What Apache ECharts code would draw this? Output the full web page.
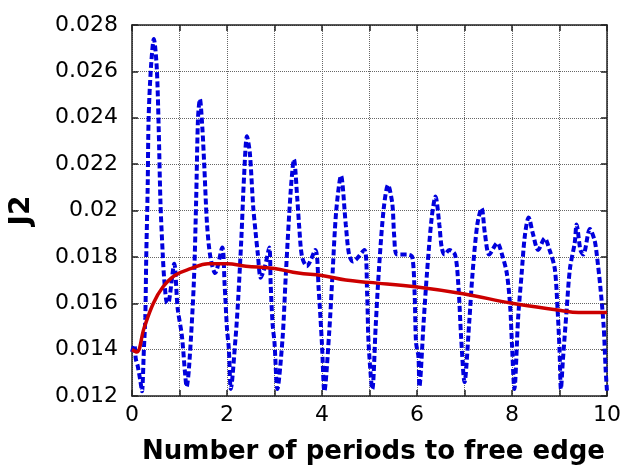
<!DOCTYPE html>
<html>
<head>
<meta charset="utf-8">
<script src="https://cdn.jsdelivr.net/npm/echarts@6/dist/echarts.min.js"></script>
<style>
  html, body { margin: 0; padding: 0; background: #fff; }
  #chart { width: 624px; height: 470px; }
</style>
</head>
<body>
<div id="chart"></div>
<script>
// J2 vs number of periods to free edge
const blueX = [0.00, 0.05, 0.08, 0.12, 0.18, 0.21, 0.25, 0.28, 0.30, 0.33, 0.35, 0.40, 0.46, 0.52, 0.56, 0.60, 0.65, 0.68, 0.74, 0.78, 0.89, 0.96,
  1.05, 1.12, 1.15, 1.20, 1.30, 1.35, 1.39, 1.43, 1.48, 1.52, 1.58, 1.65, 1.75, 1.90, 1.95,
  2.00, 2.04, 2.08, 2.18, 2.23, 2.30, 2.36, 2.42, 2.48, 2.55, 2.60, 2.65, 2.71, 2.80, 2.89, 2.92, 2.96,
  3.00, 3.06, 3.17, 3.24, 3.34, 3.41, 3.48, 3.52, 3.58, 3.68, 3.86, 3.93,
  4.00, 4.05, 4.15, 4.22, 4.30, 4.40, 4.50, 4.57, 4.65, 4.89, 4.95, 4.98,
  5.06, 5.13, 5.20, 5.30, 5.39, 5.48, 5.52, 5.58, 5.80, 5.90, 5.95, 5.98,
  6.03, 6.05, 6.14, 6.21, 6.31, 6.39, 6.47, 6.52, 6.58, 6.68, 6.80, 6.87, 6.93,
  7.00, 7.10, 7.17, 7.27, 7.36, 7.43, 7.52, 7.69, 7.79, 7.89, 7.96,
  8.00, 8.05, 8.13, 8.20, 8.27, 8.35, 8.44, 8.55, 8.69, 8.79, 8.90, 8.96,
  9.00, 9.03, 9.07, 9.15, 9.22, 9.32, 9.36, 9.44, 9.50, 9.64, 9.74, 9.79, 9.86, 9.93, 9.97, 10.0];
const blueY = [0.0139, 0.0142, 0.0136, 0.0133, 0.0126, 0.0122, 0.0140, 0.0154, 0.0180, 0.0210, 0.0240, 0.0262, 0.0274, 0.0262, 0.0237, 0.0203, 0.0180, 0.0170, 0.0160, 0.0161, 0.0177, 0.0158,
  0.0146, 0.0129, 0.0124, 0.0132, 0.0168, 0.0204, 0.0240, 0.0248, 0.0236, 0.0220, 0.0194, 0.0180, 0.0173, 0.0184, 0.0168,
  0.0149, 0.0140, 0.0123, 0.0145, 0.0160, 0.0187, 0.0215, 0.0232, 0.0225, 0.0202, 0.0191, 0.0181, 0.0171, 0.0176, 0.0184, 0.0168, 0.0151,
  0.0143, 0.0123, 0.0145, 0.0173, 0.0208, 0.0222, 0.0205, 0.0193, 0.0180, 0.0176, 0.0183, 0.0166,
  0.0142, 0.0122, 0.0147, 0.0172, 0.0200, 0.0215, 0.0194, 0.0181, 0.0178, 0.0183, 0.0164, 0.0143,
  0.0123, 0.0150, 0.0175, 0.0201, 0.0211, 0.0203, 0.0189, 0.0181, 0.0181, 0.0180, 0.0164, 0.0143,
  0.0137, 0.0124, 0.0152, 0.0173, 0.0197, 0.0206, 0.0194, 0.0184, 0.0181, 0.0183, 0.0181, 0.0168, 0.0145,
  0.0126, 0.0152, 0.0173, 0.0194, 0.0201, 0.0190, 0.0181, 0.0186, 0.0181, 0.0173, 0.0159,
  0.0142, 0.0123, 0.0154, 0.0172, 0.0189, 0.0197, 0.0190, 0.0183, 0.0188, 0.0183, 0.0175, 0.0157,
  0.0140, 0.0123, 0.0135, 0.0157, 0.0175, 0.0186, 0.0194, 0.0183, 0.0181, 0.0192, 0.0187, 0.0180, 0.0167, 0.0150, 0.0132, 0.0122];

const redX = [0, 0.1, 0.25, 0.45, 0.65, 0.9, 1.25, 1.6, 2.0, 2.4, 3.0, 3.5, 4.0, 4.5, 5.0, 6.0, 7.0, 8.0, 9.0, 9.4, 10];
const redY = [0.0140, 0.0139, 0.0149, 0.0160, 0.0167, 0.0172, 0.0175, 0.0177, 0.0177, 0.0176, 0.0175, 0.0173, 0.0172, 0.0170, 0.0169, 0.0167, 0.0164, 0.0160, 0.0157, 0.0156, 0.0156];

const xMin = 0, xMax = 10, xStep = 1;
const yMin = 0.012, yMax = 0.028, yStep = 0.002;

const pairs = (xs, ys) => xs.map((x, i) => [x, ys[i]]);

const frame = { show: true, onZero: false, lineStyle: { color: '#222', width: 1.5 } };
const inTick = { show: true, inside: true, length: 6, lineStyle: { color: '#222', width: 1.5 } };
const grid = { show: true, lineStyle: { color: '#666', type: [1, 1], width: 1 } };
const font = 'DejaVu Sans, sans-serif';

const chart = echarts.init(document.getElementById('chart'));
chart.setOption({
  animation: false,
  backgroundColor: '#fff',
  grid: { left: 132, right: 12, top: 25, bottom: 69 },
  xAxis: [{
    type: 'value', min: xMin, max: xMax, interval: xStep,
    name: 'Number of periods to free edge', nameLocation: 'middle', nameGap: 43,
    nameTextStyle: { fontFamily: font, fontSize: 26, fontWeight: 'bold', color: '#000', padding: [0, 0, 0, 8] },
    axisLine: frame, axisTick: inTick, splitLine: grid,
    axisLabel: {
      margin: 8, fontFamily: font, fontSize: 22, color: '#000',
      formatter: v => (Math.round(v) % 2 === 0 ? String(Math.round(v)) : '')
    }
  }, {
    type: 'value', position: 'top', min: xMin, max: xMax, interval: xStep,
    axisLine: frame, axisTick: inTick, axisLabel: { show: false }, splitLine: { show: false }
  }],
  yAxis: [{
    type: 'value', min: yMin, max: yMax, interval: yStep,
    name: 'J2', nameLocation: 'middle', nameGap: 96, nameRotate: 90,
    nameTextStyle: { fontFamily: font, fontSize: 28, fontWeight: 'bold', color: '#000' },
    axisLine: frame, axisTick: inTick, splitLine: grid,
    axisLabel: {
      margin: 14, fontFamily: font, fontSize: 22, color: '#000',
      formatter: v => String(parseFloat(v.toFixed(3)))
    }
  }, {
    type: 'value', position: 'right', min: yMin, max: yMax, interval: yStep,
    axisLine: frame, axisTick: inTick, axisLabel: { show: false }, splitLine: { show: false }
  }],
  series: [{
    type: 'line', data: pairs(blueX, blueY), showSymbol: false, smooth: 0.3,
    clip: true, z: 3,
    lineStyle: { color: '#0000dd', width: 4, type: [6, 3] }
  }, {
    type: 'line', data: pairs(redX, redY), showSymbol: false, smooth: 0.4,
    clip: true, z: 4,
    lineStyle: { color: '#cc0000', width: 3.5 }
  }]
});
</script>
</body>
</html>
